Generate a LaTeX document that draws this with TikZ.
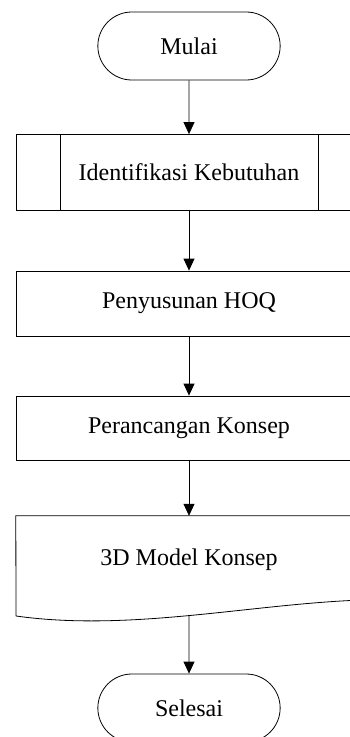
\documentclass[tikz,border=0pt]{standalone}
\usepackage{fontspec}
\setmainfont{Liberation Serif}
\usetikzlibrary{shapes.misc,arrows.meta,positioning}

\begin{document}
\begin{tikzpicture}[x=1pt,y=1pt,on grid,
    every node/.style={font=\fontsize{24}{28}\selectfont},
    terminal/.style={draw,rounded rectangle,minimum width=189pt,minimum height=68pt,line width=0.8pt},
    process/.style={draw,rectangle,minimum width=346pt,line width=0.8pt},
    subproc/.style={process,path picture={
        \draw[line width=0.8pt] ([xshift=44pt]path picture bounding box.north west)
            -- ([xshift=44pt]path picture bounding box.south west);
        \draw[line width=0.8pt] ([xshift=-44pt]path picture bounding box.north east)
            -- ([xshift=-44pt]path picture bounding box.south east);}},
    arrow/.style={-{Triangle[width=11pt,length=12pt]},line width=0.8pt}]

    \useasboundingbox (0,0) rectangle (350,-737);

    %steps of the flow
    \node[terminal] (mulai) at (189,-46) {Mulai};
    \node[subproc,minimum height=76pt,below=126.5pt of mulai] (identifikasi) {Identifikasi Kebutuhan};
    \node[process,minimum height=65pt,below=131pt of identifikasi] (hoq) {Penyusunan HOQ};
    \node[process,minimum height=64pt,below=124.5pt of hoq] (konsep) {Perancangan Konsep};
    \node[minimum width=346pt,minimum height=88pt,below=132pt of konsep] (model) {3D Model Konsep};
    \node[terminal,below=148pt of model] (selesai) {Selesai};

    %document outline with wavy bottom
    \draw[line width=0.8pt] (16,-616) -- (model.north west) -- (model.north east) -- (362,-600)
        .. controls (250,-604) and (130,-632) .. (16,-616);
    \coordinate (wave) at (189,-615.5);

    %connectors
    \draw[arrow] (mulai) -- (identifikasi);
    \draw[arrow] (identifikasi) -- (hoq);
    \draw[arrow] (hoq) -- (konsep);
    \draw[arrow] (konsep) -- (model.north);
    \draw[arrow] (wave) -- (selesai);
\end{tikzpicture}
\end{document}
